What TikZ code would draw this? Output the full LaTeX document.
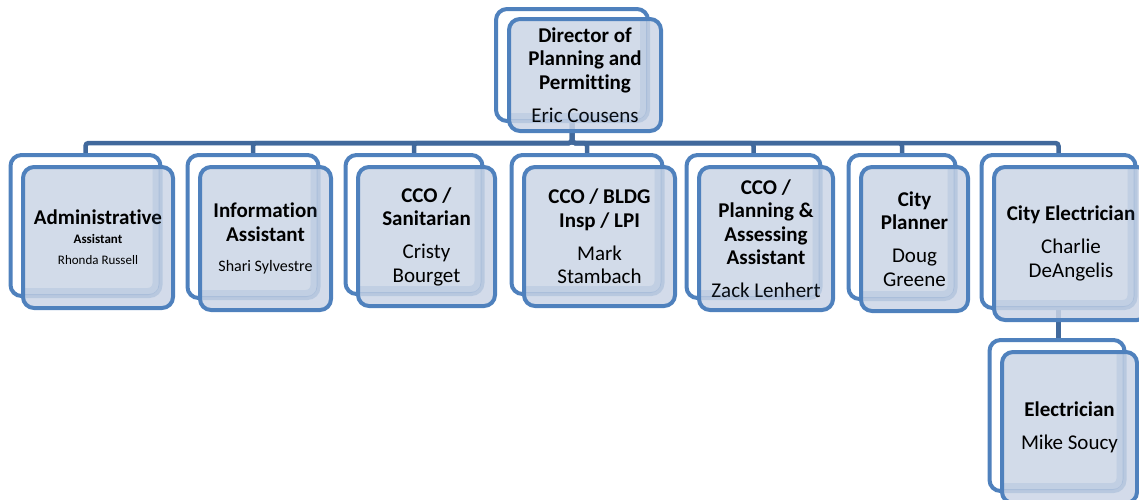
\documentclass[tikz,border=0pt]{standalone}
\usepackage{fontspec}
\setmainfont{Carlito}[Ligatures=NoCommon]
\definecolor{frameblue}{HTML}{4F81BD}
\definecolor{busblue}{HTML}{41699C}
\definecolor{boxfill}{HTML}{CBD5E6}
\pgfdeclarelayer{bg}
\pgfsetlayers{bg,main}
\tikzset{
  backbox/.style={draw=frameblue, line width=4pt, fill=white, rounded corners=11pt, inner sep=0pt},
  frontbox/.style={draw=frameblue, line width=4pt, fill=boxfill, fill opacity=0.85, text opacity=1,
    rounded corners=11pt, inner sep=0pt, align=center, font=\fontsize{21}{23.5}\selectfont},
  band/.style={draw=frameblue, draw opacity=0.13, line width=7pt, rounded corners=8pt},
  link/.style={draw=busblue, line width=4.5pt, rounded corners=3pt}
}
\newcommand\tl[1]{\textbf{#1}}
\newcommand\smallbf[1]{{\fontsize{13}{15}\selectfont\bfseries #1}}
\newcommand\smallrm[1]{{\fontsize{13}{15}\selectfont #1}}
\newcommand\midrm[1]{{\fontsize{16}{19}\selectfont #1}}
% name, x1, y1, x2, y2, dx, dy, text
\newcommand\orgunit[8]{%
  \node[backbox, minimum width={#4-#2-4}, minimum height={#5-#3-4}]
    (#1B) at ({(#2+#4)/2+#6},{(#3+#5)/2+#7}) {};
  \node[frontbox, minimum width={#4-#2-4}, minimum height={#5-#3-4}]
    (#1) at ({(#2+#4)/2},{(#3+#5)/2}) {#8};
  \begin{scope}
    \clip[rounded corners=8pt] ([shift={(4,4)}]#1.north west) rectangle ([shift={(-4,-4)}]#1.south east);
    \draw[band] ([shift={(6,6)}]#1B.north west) rectangle ([shift={(-6.5,-6.5)}]#1B.south east);
  \end{scope}
}
\begin{document}
\begin{tikzpicture}[x=1pt,y=-1pt]
\useasboundingbox (0,0) rectangle (1139,499);
\clip (0,0) rectangle (1139,499);
\orgunit{top}{507}{17}{663}{133}{-13}{-10}{\tl{Director of}\\\tl{Planning and}\\\tl{Permitting}\\[9.5pt]Eric Cousens}
\orgunit{admin}{21}{165}{175}{310}{-12.5}{-12}{\tl{Administrative}\\[-4.5pt]\smallbf{Assistant}\\[-2.5pt]\smallrm{Rhonda Russell}}
\orgunit{info}{198}{165}{333}{312}{-12.5}{-12}{\tl{Information}\\\tl{Assistant}\\[6.5pt]\midrm{Shari Sylvestre}}
\orgunit{sanit}{356}{165}{497}{308}{-12.5}{-12}{\tl{CCO /}\\\tl{Sanitarian}\\[9.5pt]Cristy\\Bourget}
\orgunit{bldg}{522}{165}{677}{308}{-12.5}{-12}{\tl{CCO / BLDG}\\\tl{Insp / LPI}\\[9.5pt]Mark\\Stambach}
\orgunit{plan}{697}{165}{835}{312}{-12.5}{-12}{\tl{CCO /}\\\tl{Planning \&}\\\tl{Assessing}\\\tl{Assistant}\\[9.5pt]Zack Lenhert}
\orgunit{cplan}{859}{165}{970}{313}{-12.5}{-12}{\tl{City}\\\tl{Planner}\\[9.5pt]Doug\\Greene}
\orgunit{celec}{992}{165}{1150}{322}{-12.5}{-12}{\tl{City Electrician}\\[9.5pt]Charlie\\DeAngelis}
\orgunit{elec}{1000}{350}{1139}{505}{-12.5}{-12}{\tl{Electrician}\\[9.5pt]Mike Soucy}
\coordinate (busy) at (0,143);
\begin{pgfonlayer}{bg}
  \foreach \c in {admin,info,sanit,bldg,plan,cplan,celec}
    \draw[link] (topB.south) -- (topB.south |- busy) -| (\c B.north);
  \draw[link] (celecB.south) -- (celecB.south |- elecB.north);
\end{pgfonlayer}
\end{tikzpicture}
\end{document}
